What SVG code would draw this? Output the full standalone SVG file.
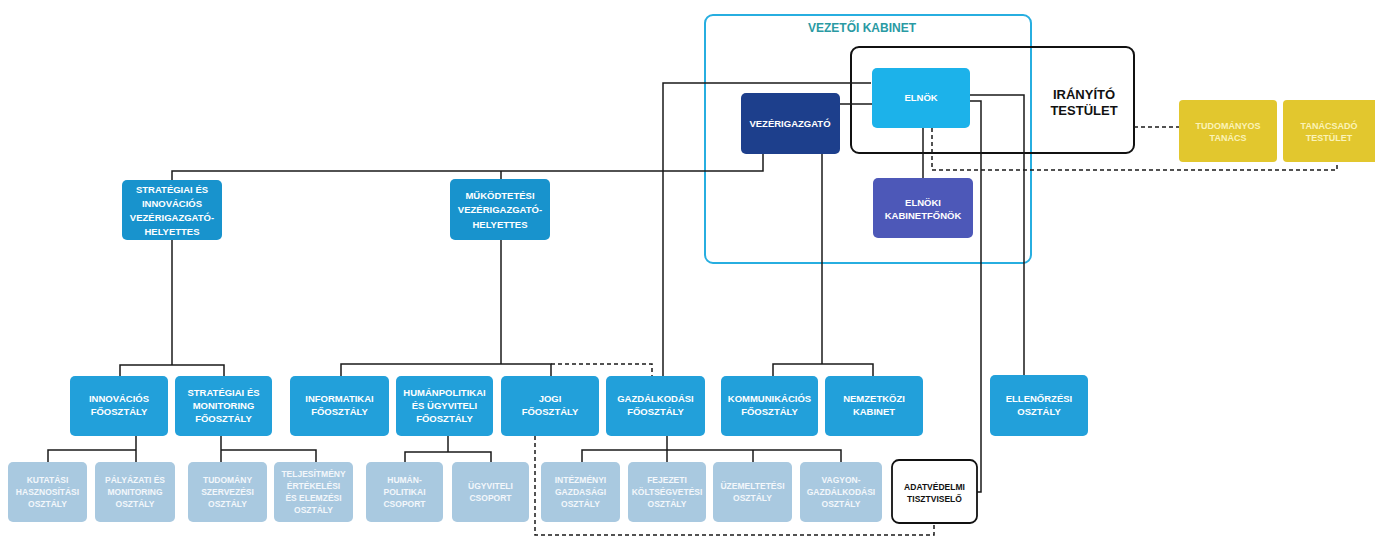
<svg xmlns="http://www.w3.org/2000/svg" width="1375" height="538" viewBox="0 0 1375 538">
<style>
.bg{fill:#ffffff}
.vig{fill:#1893cd}
.main{fill:#22a0da}
.low{fill:#a9c9e0}
.elnok{fill:#1cb2ea}
.vezer{fill:#1d3f8c}
.kab{fill:#4d58b8}
.yel{fill:#e2c72e}
.adat{fill:#ffffff;stroke:#111;stroke-width:1.8}
.t{font-family:"Liberation Sans",Arial,sans-serif;font-weight:bold;fill:#ffffff;text-anchor:middle;font-size:9.5px}
.ts{font-size:8.5px}
.tl{fill:#f3f7fb}
.ty{fill:#fbf3b8;font-size:9px}
.tb{fill:#111111}
.ln{stroke:#1a1a1a;stroke-width:1.5;fill:none}
.dash{stroke:#1a1a1a;stroke-width:1.5;fill:none;stroke-dasharray:4 3}
.frame1{fill:none;stroke:#27aee0;stroke-width:2}
.frame2{fill:none;stroke:#111;stroke-width:2}
</style>
<rect class="bg" x="0" y="0" width="1375" height="538"/>

<g id="vezetoi-kabinet">
<rect class="frame1" x="705" y="15" width="326" height="248" rx="8"/>
<text class="t" x="862" y="32" style="fill:#2a9aa3;font-size:12px">VEZETŐI KABINET</text>
</g>
<g id="iranyito-testulet">
<rect class="frame2" x="851" y="47" width="283" height="106" rx="8"/>
<text class="t tb" x="1084" y="99" style="font-size:13px">IRÁNYÍTÓ</text>
<text class="t tb" x="1084" y="115" style="font-size:13px">TESTÜLET</text>
</g>

<g id="connectors">
<path class="ln" d="M871 83 H663 V376"/>
<path class="ln" d="M840 104 H872"/>
<path class="ln" d="M923 128 V178"/>
<path class="ln" d="M970 95 H1024 V375"/>
<path class="ln" d="M970 101 H981 V492 H977"/>
<path class="ln" d="M763 154 V171 H172 V180"/>
<path class="ln" d="M501 171 V179"/>
<path class="ln" d="M822 154 V364"/>
<path class="ln" d="M773 376 V364 H873 V376"/>
<path class="ln" d="M172 240 V365"/>
<path class="ln" d="M120 376 V365 H224 V376"/>
<path class="ln" d="M501 240 V364"/>
<path class="ln" d="M341 376 V364 H551 V376"/>
<path class="dash" d="M551 364 H652 V376"/>
<path class="ln" d="M136 436 V462"/>
<path class="ln" d="M48 462 V450 H136"/>
<path class="ln" d="M221 436 V462"/>
<path class="ln" d="M221 450 H316 V462"/>
<path class="ln" d="M448 436 V452"/>
<path class="ln" d="M405 462 V452 H491 V462"/>
<path class="ln" d="M667 436 V462"/>
<path class="ln" d="M582 462 V450 H841 V462"/>
<path class="ln" d="M753 450 V462"/>
<path class="dash" d="M535 436 V535 H934 V523"/>
<path class="dash" d="M1134 127 H1179"/>
<path class="dash" d="M932 128 V170 H1337 V162"/>
</g>

<g id="elnok">
<rect class="elnok" x="872" y="68" width="98" height="60" rx="5"/>
<text class="t" x="921" y="101">ELNÖK</text>
</g>
<g id="vezerigazgato">
<rect class="vezer" x="741" y="93" width="99" height="61" rx="5"/>
<text class="t" x="790" y="127">VEZÉRIGAZGATÓ</text>
</g>
<g id="elnoki-kabinetfonok">
<rect class="kab" x="873" y="178" width="100" height="60" rx="5"/>
<text class="t" x="923" y="206">ELNÖKI</text>
<text class="t" x="923" y="219">KABINETFŐNÖK</text>
</g>
<g id="tudomanyos-tanacs">
<rect class="yel" x="1179" y="100" width="98" height="62" rx="4"/>
<text class="t ty" x="1228" y="129">TUDOMÁNYOS</text>
<text class="t ty" x="1228" y="141">TANÁCS</text>
</g>
<g id="tanacsado-testulet">
<rect class="yel" x="1283" y="100" width="96" height="62" rx="4"/>
<text class="t ty" x="1329" y="129">TANÁCSADÓ</text>
<text class="t ty" x="1329" y="141">TESTÜLET</text>
</g>

<g id="strategiai-vig">
<rect class="vig" x="122" y="180" width="100" height="60" rx="5"/>
<text class="t" x="172" y="192.5">STRATÉGIAI ÉS</text>
<text class="t" x="172" y="206.5">INNOVÁCIÓS</text>
<text class="t" x="172" y="220.5">VEZÉRIGAZGATÓ-</text>
<text class="t" x="172" y="234.5">HELYETTES</text>
</g>
<g id="mukodtetesi-vig">
<rect class="vig" x="450" y="179" width="100" height="61" rx="5"/>
<text class="t" x="500" y="198.5">MŰKÖDTETÉSI</text>
<text class="t" x="500" y="213">VEZÉRIGAZGATÓ-</text>
<text class="t" x="500" y="227.5">HELYETTES</text>
</g>

<g id="innovacios-fo">
<rect class="main" x="70" y="376" width="98" height="60" rx="5"/>
<text class="t" x="119" y="402">INNOVÁCIÓS</text>
<text class="t" x="119" y="415">FŐOSZTÁLY</text>
</g>
<g id="strategiai-monitoring-fo">
<rect class="main" x="175" y="376" width="97" height="60" rx="5"/>
<text class="t" x="223.5" y="396">STRATÉGIAI ÉS</text>
<text class="t" x="223.5" y="409">MONITORING</text>
<text class="t" x="223.5" y="422">FŐOSZTÁLY</text>
</g>
<g id="informatikai-fo">
<rect class="main" x="290" y="376" width="99" height="60" rx="5"/>
<text class="t" x="339.5" y="402">INFORMATIKAI</text>
<text class="t" x="339.5" y="415">FŐOSZTÁLY</text>
</g>
<g id="humanpolitikai-fo">
<rect class="main" x="396" y="376" width="97" height="60" rx="5"/>
<text class="t" x="444.5" y="396">HUMÁNPOLITIKAI</text>
<text class="t" x="444.5" y="409">ÉS ÜGYVITELI</text>
<text class="t" x="444.5" y="422">FŐOSZTÁLY</text>
</g>
<g id="jogi-fo">
<rect class="main" x="501" y="376" width="98" height="60" rx="5"/>
<text class="t" x="550" y="402">JOGI</text>
<text class="t" x="550" y="415">FŐOSZTÁLY</text>
</g>
<g id="gazdalkodasi-fo">
<rect class="main" x="606" y="376" width="99" height="60" rx="5"/>
<text class="t" x="655.5" y="402">GAZDÁLKODÁSI</text>
<text class="t" x="655.5" y="415">FŐOSZTÁLY</text>
</g>
<g id="kommunikacios-fo">
<rect class="main" x="721" y="376" width="97" height="60" rx="5"/>
<text class="t" x="769.5" y="402">KOMMUNIKÁCIÓS</text>
<text class="t" x="769.5" y="415">FŐOSZTÁLY</text>
</g>
<g id="nemzetkozi-kabinet">
<rect class="main" x="825" y="376" width="98" height="60" rx="5"/>
<text class="t" x="874" y="402">NEMZETKÖZI</text>
<text class="t" x="874" y="415">KABINET</text>
</g>
<g id="ellenorzesi-osztaly">
<rect class="main" x="990" y="375" width="98" height="61" rx="5"/>
<text class="t" x="1039" y="402">ELLENŐRZÉSI</text>
<text class="t" x="1039" y="415">OSZTÁLY</text>
</g>

<g id="kutatasi-hasznositasi">
<rect class="low" x="8" y="462" width="79" height="60" rx="5"/>
<text class="t ts tl" x="47.5" y="483">KUTATÁSI</text>
<text class="t ts tl" x="47.5" y="495">HASZNOSÍTÁSI</text>
<text class="t ts tl" x="47.5" y="507">OSZTÁLY</text>
</g>
<g id="palyazati-monitoring">
<rect class="low" x="95" y="462" width="80" height="60" rx="5"/>
<text class="t ts tl" x="135" y="483">PÁLYÁZATI ÉS</text>
<text class="t ts tl" x="135" y="495">MONITORING</text>
<text class="t ts tl" x="135" y="507">OSZTÁLY</text>
</g>
<g id="tudomanyszervezesi">
<rect class="low" x="188" y="462" width="79" height="60" rx="5"/>
<text class="t ts tl" x="227.5" y="483">TUDOMÁNY</text>
<text class="t ts tl" x="227.5" y="495">SZERVEZÉSI</text>
<text class="t ts tl" x="227.5" y="507">OSZTÁLY</text>
</g>
<g id="teljesitmeny-ertekelesi">
<rect class="low" x="274" y="462" width="79" height="60" rx="5"/>
<text class="t ts tl" x="313.5" y="477">TELJESÍTMÉNY</text>
<text class="t ts tl" x="313.5" y="489">ÉRTÉKELÉSI</text>
<text class="t ts tl" x="313.5" y="501">ÉS ELEMZÉSI</text>
<text class="t ts tl" x="313.5" y="513">OSZTÁLY</text>
</g>
<g id="humanpolitikai-csoport">
<rect class="low" x="366" y="462" width="77" height="60" rx="5"/>
<text class="t ts tl" x="404.5" y="483">HUMÁN-</text>
<text class="t ts tl" x="404.5" y="495">POLITIKAI</text>
<text class="t ts tl" x="404.5" y="507">CSOPORT</text>
</g>
<g id="ugyviteli-csoport">
<rect class="low" x="452" y="462" width="77" height="60" rx="5"/>
<text class="t ts tl" x="490.5" y="489">ÜGYVITELI</text>
<text class="t ts tl" x="490.5" y="501">CSOPORT</text>
</g>
<g id="intezmenyi-gazdasagi">
<rect class="low" x="541" y="462" width="79" height="60" rx="5"/>
<text class="t ts tl" x="580.5" y="483">INTÉZMÉNYI</text>
<text class="t ts tl" x="580.5" y="495">GAZDASÁGI</text>
<text class="t ts tl" x="580.5" y="507">OSZTÁLY</text>
</g>
<g id="fejezeti-koltsegvetesi">
<rect class="low" x="628" y="462" width="78" height="60" rx="5"/>
<text class="t ts tl" x="667" y="483">FEJEZETI</text>
<text class="t ts tl" x="667" y="495">KÖLTSÉGVETÉSI</text>
<text class="t ts tl" x="667" y="507">OSZTÁLY</text>
</g>
<g id="uzemeltetesi">
<rect class="low" x="713" y="462" width="79" height="60" rx="5"/>
<text class="t ts tl" x="752.5" y="489">ÜZEMELTETÉSI</text>
<text class="t ts tl" x="752.5" y="501">OSZTÁLY</text>
</g>
<g id="vagyongazdalkodasi">
<rect class="low" x="800" y="462" width="82" height="60" rx="5"/>
<text class="t ts tl" x="841" y="483">VAGYON-</text>
<text class="t ts tl" x="841" y="495">GAZDÁLKODÁSI</text>
<text class="t ts tl" x="841" y="507">OSZTÁLY</text>
</g>
<g id="adatvedelmi-tisztviselo">
<rect class="adat" x="892" y="460" width="85" height="63" rx="7"/>
<text class="t ts tb" x="934.5" y="490">ADATVÉDELMI</text>
<text class="t ts tb" x="934.5" y="502">TISZTVISELŐ</text>
</g>
</svg>
